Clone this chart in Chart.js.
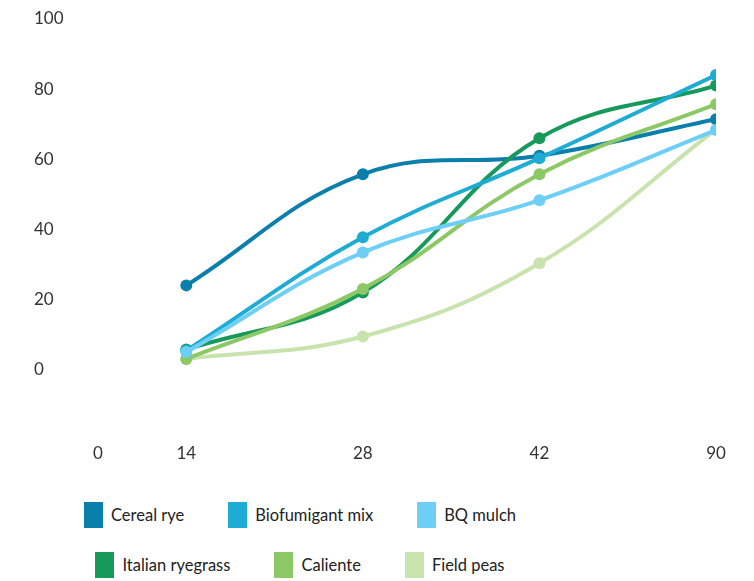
<!DOCTYPE html>
<html>
<head>
<meta charset="utf-8">
<script src="https://cdn.jsdelivr.net/npm/chart.js@4.4.1/dist/chart.umd.min.js"></script>
<style>
  html, body { margin: 0; padding: 0; background: #fff; }
  #wrap { position: relative; width: 754px; height: 581px; overflow: hidden; }
  #chart-box { position: absolute; left: 0; top: 0; width: 754px; height: 468px; }
  #legend { position: absolute; left: 0; top: 502px; width: 600px;
            font-family: Lato, "Open Sans", sans-serif; font-size: 16.5px; color: #222; }
  .lg-row { display: flex; justify-content: center; gap: 44px; height: 50px; }
  .lg-item { display: flex; align-items: flex-start; }
  .lg-box { width: 19px; height: 26px; margin-right: 8px; }
  .lg-text { line-height: 26px; }
</style>
</head>
<body>
<div id="wrap">
  <div id="chart-box"><canvas id="c"></canvas></div>
  <div id="legend"></div>
</div>
<script>
// ─── Data ─────────────────────────────────────────────
const originLabel = '0';
const days = ['14', '28', '42', '90'];
const yTicks = [0, 20, 40, 60, 80, 100];

const seriesNames = ['Cereal rye', 'Biofumigant mix', 'BQ mulch', 'Italian ryegrass', 'Caliente', 'Field peas'];
const seriesColors = ['#0a7fab', '#1eabd4', '#6dcff6', '#16995a', '#8cc865', '#c9e3ae'];

const cerealRye       = [24, 55.7, 61, 71.4];
const biofumigantMix  = [5.4, 37.7, 60.3, 84];
const bqMulch         = [5, 33.4, 48.3, 68.3];
const italianRyegrass = [5.7, 22, 66, 81];
const caliente        = [3, 23, 55.7, 75.7];
const fieldPeas       = [3, 9.4, 30.3, 68.5];

const seriesValues = [cerealRye, biofumigantMix, bqMulch, italianRyegrass, caliente, fieldPeas];
// lower = drawn on top
const drawOrder = [5, 2, 1, 4, 3, 6];

// ─── Chart ────────────────────────────────────────────
const FONT = 'Lato, "Open Sans", sans-serif';

const datasets = seriesNames.map((name, i) => ({
  label: name,
  data: seriesValues[i].map((v, j) => ({ x: j + 1, y: v })),
  borderColor: seriesColors[i],
  backgroundColor: seriesColors[i],
  borderWidth: 4,
  pointRadius: 6,
  pointHoverRadius: 6,
  pointBorderWidth: 0,
  tension: 0.4,
  order: drawOrder[i],
}));

new Chart(document.getElementById('c'), {
  type: 'line',
  data: { datasets },
  options: {
    responsive: true,
    maintainAspectRatio: false,
    animation: false,
    layout: { padding: { left: 34, right: 38, top: 19, bottom: 0 } },
    plugins: { legend: { display: false }, tooltip: { enabled: false } },
    scales: {
      x: {
        type: 'linear',
        min: 0.5,
        max: days.length,
        grid: { display: false, drawTicks: false },
        border: { display: false },
        afterBuildTicks: (axis) => {
          axis.ticks = [{ value: 0.5 }].concat(days.map((d, j) => ({ value: j + 1 })));
        },
        ticks: {
          color: '#333',
          font: { family: FONT, size: 17 },
          padding: 4,
          maxRotation: 0,
          callback: (v) => (v === 0.5 ? originLabel : days[v - 1]),
        },
      },
      y: {
        min: -20,
        max: 100,
        grid: { display: false, drawTicks: false },
        border: { display: false },
        afterBuildTicks: (axis) => { axis.ticks = yTicks.map(v => ({ value: v })); },
        afterFit: (axis) => { axis.width = 64; },
        ticks: {
          color: '#333',
          font: { family: FONT, size: 17 },
          crossAlign: 'far',
          padding: 0,
        },
      },
    },
  },
});

// ─── Legend (two centred rows) ────────────────────────
const legendRows = [[0, 1, 2], [3, 4, 5]];
document.getElementById('legend').innerHTML = legendRows.map(row => `
  <div class="lg-row">
    ${row.map(i => `
      <div class="lg-item">
        <span class="lg-box" style="background:${seriesColors[i]}"></span>
        <span class="lg-text">${seriesNames[i]}</span>
      </div>`).join('')}
  </div>`).join('');
</script>
</body>
</html>
